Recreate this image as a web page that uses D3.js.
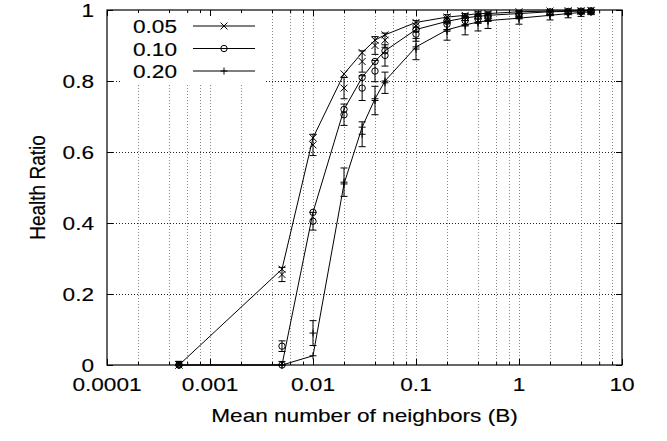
<!DOCTYPE html>
<html lang="en">
<head>
<meta charset="UTF-8">
<title>Health Ratio</title>
<script src="https://cdnjs.cloudflare.com/ajax/libs/d3/7.8.5/d3.min.js"></script>
<style>
    body { margin: 0; background: #fff; }
    text { font-family: "Liberation Sans", Arial, sans-serif; font-size: 19px; fill: #000; stroke: #000; stroke-width: 0.15; }
    .grid-x { stroke: #888; stroke-width: 1; stroke-dasharray: 1,2; }
    .grid-y { stroke: #222; stroke-width: 1; stroke-dasharray: 1,2; }
    .tick line { stroke: #000; }
    .series-line { fill: none; stroke: #000; stroke-width: 1; }
    .mark { fill: none; stroke: #000; stroke-width: 1; }
</style>
</head>
<body>
<svg id="chart" width="667" height="441"></svg>
<script>
// mean number of neighbours (B)
var xs = [0.0005, 0.005, 0.01, 0.02, 0.03, 0.04, 0.05, 0.1, 0.2, 0.3, 0.4, 0.5, 1, 2, 3, 4, 5];

// curve values (drawn with lines + points)
var line05 = [0, 0.27, 0.64, 0.82, 0.88, 0.915, 0.93, 0.965, 0.98, 0.985, 0.99, 0.99, 0.995, 0.997, 0.998, 0.998, 0.999];
var line10 = [0, 0, 0.43, 0.72, 0.81, 0.855, 0.885, 0.945, 0.968, 0.978, 0.982, 0.985, 0.99, 0.995, 0.996, 0.997, 0.998];
var line20 = [0, 0, 0.026, 0.51, 0.67, 0.75, 0.80, 0.896, 0.944, 0.958, 0.966, 0.97, 0.977, 0.985, 0.99, 0.993, 0.995];

// simulated values with error bars
var sim05 = [0, 0.255, 0.62, 0.78, 0.855, 0.90, 0.915, 0.955, 0.975, 0.98, 0.985, 0.985, 0.99, 0.993, 0.995, 0.996, 0.997];
var err05 = [0.01, 0.02, 0.03, 0.03, 0.03, 0.025, 0.02, 0.015, 0.012, 0.01, 0.01, 0.01, 0.008, 0.006, 0.005, 0.005, 0.004];
var sim10 = [0, 0.053, 0.405, 0.705, 0.78, 0.828, 0.872, 0.932, 0.96, 0.97, 0.975, 0.98, 0.987, 0.992, 0.994, 0.995, 0.996];
var err10 = [0.01, 0.015, 0.025, 0.03, 0.035, 0.03, 0.03, 0.02, 0.015, 0.012, 0.012, 0.01, 0.008, 0.006, 0.005, 0.005, 0.004];
var sim20 = [0, 0, 0.09, 0.515, 0.65, 0.745, 0.795, 0.89, 0.94, 0.955, 0.963, 0.968, 0.975, 0.984, 0.988, 0.99, 0.993];
var err20 = [0.01, 0.01, 0.035, 0.04, 0.035, 0.04, 0.03, 0.03, 0.025, 0.025, 0.022, 0.02, 0.015, 0.012, 0.01, 0.008, 0.006];

var seriesNames = ["0.05", "0.10", "0.20"];
var markers = ["cross", "circle", "plus"];

var xMajor = [0.0001, 0.001, 0.01, 0.1, 1, 10];
var xLabels = ["0.0001", "0.001", "0.01", "0.1", "1", "10"];
var yMajor = [0, 0.2, 0.4, 0.6, 0.8, 1];
var yLabels = ["0", "0.2", "0.4", "0.6", "0.8", "1"];

var stretch = 1.19;   // text in the picture is wider than it is tall

var plotLeft = 107, plotRight = 622, plotTop = 10, plotBottom = 365;

var svg = d3.select("#chart");

var x = d3.scaleLog().domain([0.0001, 10]).range([plotLeft, plotRight]);
var y = d3.scaleLinear().domain([0, 1]).range([plotBottom, plotTop]);

// minor ticks at 2,4,6,8 of each decade
var xMinor = [];
xMajor.slice(0, -1).forEach(function(d) {
    [2, 4, 6, 8].forEach(function(m) { xMinor.push(d * m); });
});

// grid
svg.append("g").selectAll("line")
    .data(xMajor.slice(1, -1).concat(xMinor))
    .enter().append("line")
    .attr("class", "grid-x")
    .attr("x1", function(d) { return Math.round(x(d)) + 0.5; })
    .attr("x2", function(d) { return Math.round(x(d)) + 0.5; })
    .attr("y1", plotTop).attr("y2", plotBottom);

svg.append("g").selectAll("line")
    .data(yMajor.slice(1, -1))
    .enter().append("line")
    .attr("class", "grid-y")
    .attr("y1", function(d) { return Math.round(y(d)) + 0.5; })
    .attr("y2", function(d) { return Math.round(y(d)) + 0.5; })
    .attr("x1", plotLeft).attr("x2", plotRight);

// key background hides the grid
svg.append("rect")
    .attr("x", 121).attr("y", plotTop + 1)
    .attr("width", 145).attr("height", 72)
    .attr("fill", "#fff");

// ticks, pointing inward
function noText(g) { g.select(".domain").remove(); g.selectAll("text").remove(); }

svg.append("g").attr("transform", "translate(0," + plotBottom + ")")
    .call(d3.axisBottom(x).tickValues(xMajor).tickSizeInner(-6).tickSizeOuter(0)).call(noText);
svg.append("g").attr("transform", "translate(0," + plotBottom + ")")
    .call(d3.axisBottom(x).tickValues(xMinor).tickSizeInner(-3).tickSizeOuter(0)).call(noText);
svg.append("g").attr("transform", "translate(0," + plotTop + ")")
    .call(d3.axisTop(x).tickValues(xMajor).tickSizeInner(-6).tickSizeOuter(0)).call(noText);
svg.append("g").attr("transform", "translate(0," + plotTop + ")")
    .call(d3.axisTop(x).tickValues(xMinor).tickSizeInner(-3).tickSizeOuter(0)).call(noText);
svg.append("g").attr("transform", "translate(" + plotLeft + ",0)")
    .call(d3.axisLeft(y).tickValues(yMajor).tickSizeInner(-6).tickSizeOuter(0)).call(noText);
svg.append("g").attr("transform", "translate(" + plotRight + ",0)")
    .call(d3.axisRight(y).tickValues(yMajor).tickSizeInner(-6).tickSizeOuter(0)).call(noText);

// tick labels
svg.append("g").selectAll("text")
    .data(xMajor)
    .enter().append("text")
    .attr("text-anchor", "middle")
    .attr("transform", function(d) { return "translate(" + x(d) + "," + (plotBottom + 26) + ") scale(" + stretch + ",1)"; })
    .text(function(d, i) { return xLabels[i]; });

svg.append("g").selectAll("text")
    .data(yMajor)
    .enter().append("text")
    .attr("text-anchor", "end")
    .attr("transform", function(d) { return "translate(94," + (y(d) + 6.8) + ") scale(" + stretch + ",1)"; })
    .text(function(d, i) { return yLabels[i]; });

// axis titles
svg.append("text")
    .attr("text-anchor", "middle")
    .attr("transform", "translate(" + ((plotLeft + plotRight) / 2) + ",422) scale(" + stretch + ",1)")
    .text("Mean number of neighbors (B)");

svg.append("text")
    .attr("text-anchor", "middle")
    .attr("transform", "translate(45," + ((plotTop + plotBottom) / 2) + ") scale(" + stretch + ",1) rotate(-90)")
    .text("Health Ratio");

// markers
function drawMarker(g, type, cx, cy) {
    var s = 3.5;
    if (type === "cross") {
        g.append("path").attr("class", "mark")
            .attr("d", "M" + (cx - s) + "," + (cy - s) + "L" + (cx + s) + "," + (cy + s) +
                "M" + (cx - s) + "," + (cy + s) + "L" + (cx + s) + "," + (cy - s));
    } else if (type === "circle") {
        g.append("circle").attr("class", "mark").attr("cx", cx).attr("cy", cy).attr("r", 3.2);
    } else {
        g.append("path").attr("class", "mark")
            .attr("d", "M" + (cx - s) + "," + cy + "L" + (cx + s) + "," + cy +
                "M" + cx + "," + (cy - s) + "L" + cx + "," + (cy + s));
    }
}

var lines = [line05, line10, line20];
var sims = [sim05, sim10, sim20];
var errs = [err05, err10, err20];

var line = d3.line()
    .x(function(d) { return x(d[0]); })
    .y(function(d) { return y(d[1]); });

var plot = svg.append("g");

lines.forEach(function(vals, k) {
    var pts = xs.map(function(d, i) { return [d, vals[i]]; });
    plot.append("path")
        .datum(pts)
        .attr("class", "series-line")
        .attr("d", line);
    pts.forEach(function(p) { drawMarker(plot, markers[k], x(p[0]), y(p[1])); });

    // error bars for the simulated points
    xs.forEach(function(d, i) {
        var cx = x(d);
        var y0 = y(Math.max(0, sims[k][i] - errs[k][i]));
        var y1 = y(Math.min(1, sims[k][i] + errs[k][i]));
        plot.append("path").attr("class", "mark")
            .attr("d", "M" + cx + "," + y0 + "L" + cx + "," + y1 +
                "M" + (cx - 3.5) + "," + y0 + "L" + (cx + 3.5) + "," + y0 +
                "M" + (cx - 3.5) + "," + y1 + "L" + (cx + 3.5) + "," + y1);
        drawMarker(plot, markers[k], cx, y(sims[k][i]));
    });
});

// border
svg.append("rect")
    .attr("x", plotLeft).attr("y", plotTop)
    .attr("width", plotRight - plotLeft).attr("height", plotBottom - plotTop)
    .attr("fill", "none").attr("stroke", "#000").attr("stroke-width", 1.2);

// key
var key = svg.append("g");
seriesNames.forEach(function(name, k) {
    var ky = 26 + k * 22.5;
    key.append("text")
        .attr("text-anchor", "end")
        .attr("transform", "translate(177," + (ky + 7) + ") scale(" + stretch + ",1)")
        .text(name);
    key.append("line")
        .attr("x1", 193).attr("x2", 255)
        .attr("y1", ky).attr("y2", ky)
        .attr("stroke", "#000");
    drawMarker(key, markers[k], 224, ky);
});
</script>
</body>
</html>
